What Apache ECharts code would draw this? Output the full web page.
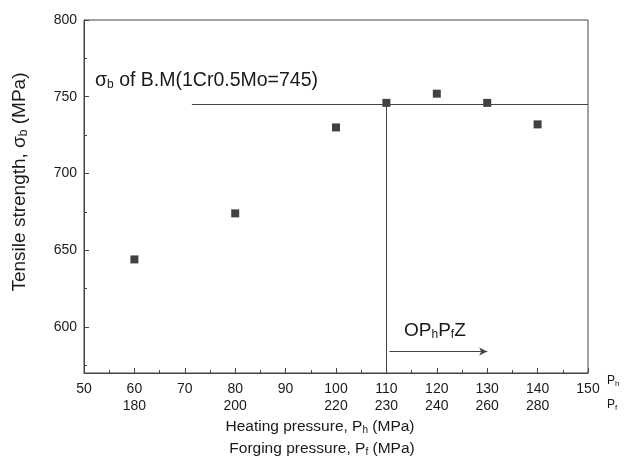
<!DOCTYPE html>
<html>
<head>
<meta charset="utf-8">
<script src="https://cdn.jsdelivr.net/npm/echarts@6/dist/echarts.min.js"></script>
<style>
  html, body { margin: 0; padding: 0; background: #fff; }
  #chart { width: 631px; height: 472px; }
</style>
</head>
<body>
<div id="chart"></div>
<script>
// Tensile strength of forged joints against heating pressure
const heatingPressure = [60, 80, 100, 110, 120, 130, 140];
const tensileStrength = [644, 674, 730, 746, 752, 746, 732];

// Base metal (1Cr0.5Mo) tensile strength reference
const baseMetalStrength = 745;

// Optimal process window on heating pressure
const optimalZone = [110, 130];

// Second row of x tick labels: forging pressure at given heating pressure
const forgingTickAt = [60, 80, 100, 110, 120, 130, 140];
const forgingTickLabels = ['180', '200', '220', '230', '240', '260', '280'];

// Y axis tick values
const yMajorTicks = [600, 650, 700, 750, 800];
const yMinorTicks = [575, 625, 675, 725, 775];

const FONT = '"Liberation Sans", Arial, sans-serif';
const INK = '#1a1a1a';
const LINE = '#444';

const chart = echarts.init(document.getElementById('chart'), null, { renderer: 'canvas' });

const points = heatingPressure.map((x, i) => [x, tensileStrength[i]]);

function sub(size, drop) {
  return { fontSize: size, fontFamily: FONT, fill: INK, padding: [drop, 0, 0, 0] };
}

chart.setOption({
  animation: false,
  backgroundColor: '#fff',
  grid: {
    left: 84, top: 20, right: 43, bottom: 99,
    show: true, borderColor: LINE, borderWidth: 1, backgroundColor: 'transparent'
  },
  xAxis: {
    type: 'value', min: 50, max: 150, interval: 10,
    axisLine: { lineStyle: { color: LINE, width: 1 } },
    axisTick: { inside: true, length: 5, lineStyle: { color: LINE } },
    minorTick: { show: true, splitNumber: 2, length: 3, lineStyle: { color: LINE } },
    splitLine: { show: false },
    axisLabel: {
      margin: 8, color: INK, fontFamily: FONT, fontSize: 14, lineHeight: 17,
      formatter: function (v) {
        const k = forgingTickAt.indexOf(v);
        return k >= 0 ? v + '\n' + forgingTickLabels[k] : String(v);
      }
    }
  },
  yAxis: [
    {
      type: 'value', min: 570, max: 800,
      axisLine: { show: true, lineStyle: { color: LINE, width: 1 } },
      axisTick: { inside: true, length: 5, customValues: yMajorTicks, lineStyle: { color: LINE } },
      splitLine: { show: false },
      axisLabel: { customValues: yMajorTicks, margin: 7, color: INK, fontFamily: FONT, fontSize: 14 }
    },
    {
      type: 'value', min: 570, max: 800, position: 'left', offset: 0,
      axisLine: { show: false },
      axisTick: { inside: true, length: 3, customValues: yMinorTicks, lineStyle: { color: LINE } },
      axisLabel: { show: false, customValues: yMinorTicks },
      splitLine: { show: false }
    }
  ],
  series: [{
    type: 'scatter',
    yAxisIndex: 0,
    data: points,
    symbol: 'rect',
    symbolSize: 8,
    itemStyle: { color: '#111' },
    markLine: {
      silent: true,
      symbol: ['none', 'none'],
      label: { show: false },
      lineStyle: { color: LINE, width: 1, type: 'solid' },
      data: [
        [{ coord: [71.4, baseMetalStrength] }, { coord: [150, baseMetalStrength] }],
        [{ coord: [optimalZone[0], 570] }, { coord: [optimalZone[0], baseMetalStrength] }],
        [
          { coord: [optimalZone[0] + 0.6, 584], symbol: 'none' },
          { coord: [optimalZone[1], 584], symbol: 'arrow', symbolSize: [6, 8] }
        ]
      ]
    }
  }],
  graphic: [
    {
      type: 'text', x: 95, y: 81,
      style: {
        text: 'σ{s|b} of B.M(1Cr0.5Mo=745)',
        font: '19.5px ' + FONT, fill: INK, align: 'left', verticalAlign: 'middle',
        rich: { s: sub(12, 8) }
      }
    },
    {
      type: 'text', x: 404, y: 331,
      style: {
        text: 'OP{s|h}P{s|f}Z',
        font: '19px ' + FONT, fill: INK, align: 'left', verticalAlign: 'middle',
        rich: { s: sub(12, 8) }
      }
    },
    {
      type: 'text', x: 320, y: 427,
      style: {
        text: 'Heating pressure, P{s|h} (MPa)',
        font: '15.5px ' + FONT, fill: INK, align: 'center', verticalAlign: 'middle',
        rich: { s: sub(10, 7) }
      }
    },
    {
      type: 'text', x: 322, y: 449,
      style: {
        text: 'Forging pressure, P{s|f} (MPa)',
        font: '15.5px ' + FONT, fill: INK, align: 'center', verticalAlign: 'middle',
        rich: { s: sub(10, 7) }
      }
    },
    {
      type: 'text', x: 20, y: 182, rotation: Math.PI / 2,
      style: {
        text: 'Tensile strength, σ{s|b} (MPa)',
        font: '19px ' + FONT, fill: INK, align: 'center', verticalAlign: 'middle',
        rich: { s: sub(12, 8) }
      }
    },
    {
      type: 'text', x: 607, y: 381,
      style: {
        text: 'P{s|h}',
        font: '12px ' + FONT, fill: INK, align: 'left', verticalAlign: 'middle',
        rich: { s: sub(8, 6) }
      }
    },
    {
      type: 'text', x: 607, y: 405,
      style: {
        text: 'P{s|f}',
        font: '12px ' + FONT, fill: INK, align: 'left', verticalAlign: 'middle',
        rich: { s: sub(8, 6) }
      }
    }
  ]
});
</script>
</body>
</html>
